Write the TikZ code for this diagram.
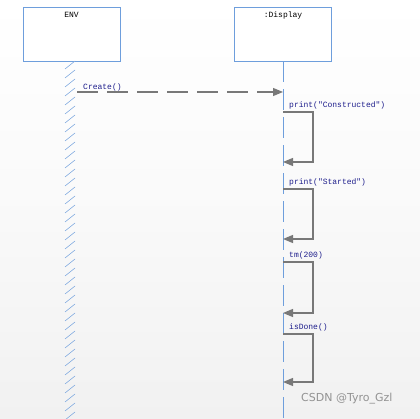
\documentclass[tikz,border=0pt]{standalone}
\usepackage{fontspec}
\setmonofont{Liberation Mono}
\setsansfont{DejaVu Sans}
\usetikzlibrary{arrows.meta}
\definecolor{boxblue}{RGB}{110,158,220}
\definecolor{msgblue}{RGB}{30,30,140}
\definecolor{arrgray}{RGB}{120,120,120}
\definecolor{bggray}{RGB}{241,241,241}

\begin{document}
\begin{tikzpicture}[x=1pt,y=-1pt,
  obj/.style={draw=boxblue, line width=0.9pt, fill=white, minimum width=97pt, minimum height=54pt, inner sep=0pt},
  title/.style={font=\ttfamily\fontsize{8}{9}\selectfont, anchor=north, inner sep=0pt, yshift=-5pt},
  msg/.style={font=\ttfamily\fontsize{8}{9}\selectfont, text=msgblue, anchor=south west, inner sep=1pt},
  call/.style={draw=arrgray, line width=1.1pt, -{Triangle[length=10pt,width=8pt]}},
  life/.style={draw=boxblue, line width=1pt}]
\useasboundingbox (0,0) rectangle (420,419);
\shade[top color=white, bottom color=bggray, middle color=bggray!40] (0,0) rectangle (420,419);

% objects
\node[obj] (env) at (71.5,34) {};
\node[title] (envname) at (env.north) {ENV};
\node[obj] (disp) at (283,34) {};
\node[title] (dispname) at (disp.north) {:Display};

% lifelines
\foreach \y in {61,70,...,415}
  \draw[boxblue!85, line width=0.6pt] (65,\y+8) -- (75,\y);
\coordinate (dispend) at (283,419);
\draw[life, dash pattern=on 21pt off 7pt] (disp.south) -- (dispend);

% constructor call
\coordinate (c0) at (77,92);
\coordinate (c1) at (283,92);
\draw[call, dash pattern=on 21pt off 9pt] (c0) -- (c1);
\node[msg] (create) at ([xshift=5pt]c0) {Create()};

% self calls
\foreach \i/\t/\b/\m in {1/112/162/{print("Constructed")}, 2/189/239/{print("Started")},
                         3/262/313/{tm(200)}, 4/334/382/{isDone()}} {
  \coordinate (s\i) at (283,\t);
  \coordinate (r\i) at (313,\t);
  \coordinate (e\i) at (283,\b);
  \draw[call] (s\i) -- (r\i) |- (e\i);
  \node[msg] (m\i) at ([xshift=5pt,yshift=2pt]s\i) {\m};
}

\node[font=\sffamily\fontsize{11}{12}\selectfont, text=gray!85, anchor=west, inner sep=0pt] (mark) at (301,399) {CSDN @Tyro\_Gzl};
\end{tikzpicture}
\end{document}
